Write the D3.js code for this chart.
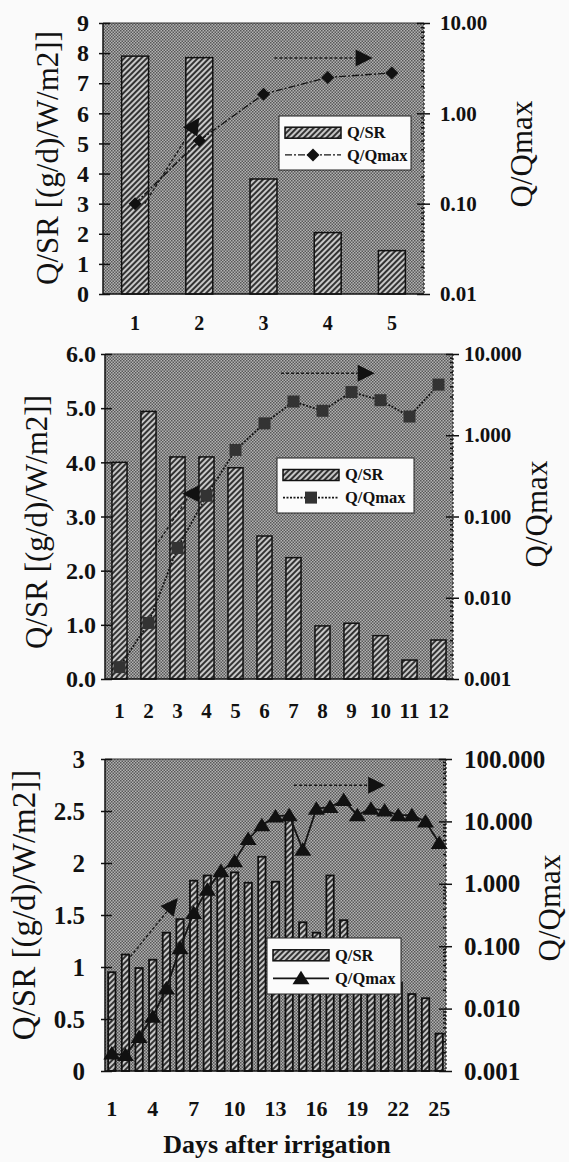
<!DOCTYPE html>
<html>
<head>
<meta charset="utf-8">
<script src="https://cdn.jsdelivr.net/npm/d3@7"></script>
<style>
body { margin: 0; background: #fafafa; }
svg { display: block; font-family: "Liberation Serif", "Times New Roman", serif; }
</style>
</head>
<body>
<div id="chart"></div>
<script>
// ---- data ----
var days1 = [1, 2, 3, 4, 5];
var qsr1 = [7.9, 7.85, 3.82, 2.04, 1.44];
var qmax1 = [0.10, 0.50, 1.63, 2.5, 2.8];
var yTicks1 = [0, 1, 2, 3, 4, 5, 6, 7, 8, 9];
var rTicks1 = [0.01, 0.1, 1, 10];
var xTicks1 = [1, 2, 3, 4, 5];

var days2 = [1, 2, 3, 4, 5, 6, 7, 8, 9, 10, 11, 12];
var qsr2 = [4.0, 4.94, 4.1, 4.1, 3.9, 2.64, 2.24, 0.98, 1.03, 0.8, 0.35, 0.72];
var qmax2 = [0.0014, 0.0049, 0.041, 0.18, 0.66, 1.4, 2.6, 2.0, 3.4, 2.7, 1.7, 4.2];
var yTicks2 = [0, 1, 2, 3, 4, 5, 6];
var rTicks2 = [0.001, 0.01, 0.1, 1, 10];
var xTicks2 = [1, 2, 3, 4, 5, 6, 7, 8, 9, 10, 11, 12];

var days3 = [1, 2, 3, 4, 5, 6, 7, 8, 9, 10, 11, 12, 13, 14, 15, 16, 17, 18, 19, 20, 21, 22, 23, 24, 25];
var qsr3 = [0.95, 1.12, 0.99, 1.07, 1.33, 1.46, 1.83, 1.88, 1.87, 1.91, 1.81, 2.06, 1.82,
            2.45, 1.43, 1.33, 1.88, 1.45, 1.0, 0.95, 0.9, 0.85, 0.74, 0.70, 0.36];
var qmax3 = [0.0019, 0.0018, 0.0035, 0.0074, 0.021, 0.093, 0.34, 0.8, 1.6, 2.3, 5.2, 8.7, 12,
             12.6, 3.5, 16, 17, 22, 12.6, 16, 15, 12.6, 12.6, 10, 4.5];
var yTicks3 = [0, 0.5, 1, 1.5, 2, 2.5, 3];
var rTicks3 = [0.001, 0.01, 0.1, 1, 10, 100];
var xTicks3 = [1, 4, 7, 10, 13, 16, 19, 22, 25];

// annotation arrows in data units (day, Q/Qmax)
var arrows1 = [{d1: 1.15, q1: 0.10, d2: 2.0, q2: 0.9}, {d1: 3.17, q1: 4.1, d2: 4.7, q2: 4.1}];
var arrows2 = [{d1: 2.05, q1: 0.034, d2: 3.45, q2: 0.19, angle: 180}, {d1: 6.57, q1: 5.8, d2: 9.8, q2: 5.8}];
var arrows3 = [{d1: 2.36, q1: 0.068, d2: 5.84, q2: 0.59}, {d1: 14.36, q1: 38, d2: 21.04, q2: 38}];

var SERIF = "Liberation Serif, Times New Roman, serif";
var W = 569, H = 1162;
var svg = d3.select("#chart").append("svg").attr("width", W).attr("height", H);

var defs = svg.append("defs");
var ht = defs.append("pattern").attr("id", "halftone")
    .attr("width", 3).attr("height", 3).attr("patternUnits", "userSpaceOnUse");
ht.append("rect").attr("width", 3).attr("height", 3).attr("fill", "#b2b2b2");
ht.append("rect").attr("width", 1.5).attr("height", 1.5).attr("fill", "#585858");
ht.append("rect").attr("x", 1.5).attr("y", 1.5).attr("width", 1.5).attr("height", 1.5).attr("fill", "#585858");

var hatch = defs.append("pattern").attr("id", "hatch")
    .attr("width", 4).attr("height", 4).attr("patternUnits", "userSpaceOnUse")
    .attr("patternTransform", "rotate(45)");
hatch.append("rect").attr("width", 4).attr("height", 4).attr("fill", "#c8c8c8");
hatch.append("rect").attr("width", 2).attr("height", 4).attr("fill", "#333");

var panels = [
  {days: days1, qsr: qsr1, qq: qmax1, yTicks: yTicks1, yFmt: d3.format("d"), rTicks: rTicks1, rFmt: d3.format(".2f"),
   xTicks: xTicks1, left: 103, right: 424, top: 23, bottom: 294, pad: 0.58, barStroke: 1.5,
   marker: "diamond", dash: "7,2,2,2", lineW: 1.4, leftFont: 24, rightFont: 21, xFont: 20,
   leftPad: 10, rightPad: 10, xPad: 22,
   ytitle: {x: 48, y: 158, size: 31}, rtitle: {x: 522, y: 154, size: 31},
   legend: {x: 279, y: 116, w: 132, h: 54}, arrows: arrows1},
  {days: days2, qsr: qsr2, qq: qmax2, yTicks: yTicks2, yFmt: d3.format(".1f"), rTicks: rTicks2, rFmt: d3.format(".3f"),
   xTicks: xTicks2, left: 105, right: 453, top: 354, bottom: 679, pad: 0.48, barStroke: 1.5,
   marker: "square", dash: "2,1.5", lineW: 1.8, leftFont: 24, rightFont: 21, xFont: 21,
   leftPad: 5, rightPad: 5, xPad: 24,
   ytitle: {x: 37, y: 522, size: 31}, rtitle: {x: 537, y: 514, size: 31},
   legend: {x: 277, y: 458, w: 137, h: 55}, arrows: arrows2},
  {days: days3, qsr: qsr3, qq: qmax3, yTicks: yTicks3, yFmt: d3.format(""), rTicks: rTicks3, rFmt: d3.format(".3f"),
   xTicks: xTicks3, left: 105, right: 446, top: 759, bottom: 1071, pad: 0.46, barStroke: 1.8,
   marker: "triangle", dash: null, lineW: 1.8, leftFont: 25, rightFont: 25, xFont: 22,
   leftPad: 16, rightPad: 12, xPad: 29,
   ytitle: {x: 24, y: 905, size: 33}, rtitle: {x: 550, y: 908, size: 31},
   legend: {x: 267, y: 938, w: 134, h: 56}, arrows: arrows3}
];

function markerPath(type) {
  if (type == "diamond") return "M0,-6.5L6.5,0L0,6.5L-6.5,0Z";
  if (type == "square") return "M-6,-6H6V6H-6Z";
  return "M0,-7.5L8.5,6L-8.5,6Z";
}

function drawPanel(p) {
  var g = svg.append("g");
  var x = d3.scaleBand().domain(p.days).range([p.left, p.right])
      .paddingInner(p.pad).paddingOuter(p.pad / 2);
  var step = x.step();
  var xc = d => p.left + (d - p.days[0] + 0.5) * step; // continuous day position
  var y = d3.scaleLinear().domain([p.yTicks[0], p.yTicks[p.yTicks.length - 1]]).range([p.bottom, p.top]);
  var yr = d3.scaleLog().domain([p.rTicks[0], p.rTicks[p.rTicks.length - 1]]).range([p.bottom, p.top]);

  // plot background
  g.append("rect").attr("x", p.left).attr("y", p.top)
      .attr("width", p.right - p.left).attr("height", p.bottom - p.top)
      .attr("fill", "url(#halftone)");

  // bars
  g.append("g").selectAll("rect").data(p.qsr).join("rect")
      .attr("x", (d, i) => x(p.days[i]))
      .attr("y", d => y(d))
      .attr("width", x.bandwidth())
      .attr("height", d => y(0) - y(d))
      .attr("fill", "url(#hatch)")
      .attr("stroke", "#111")
      .attr("stroke-width", p.barStroke);

  // Q/Qmax line
  var line = d3.line().x((d, i) => x(p.days[i]) + x.bandwidth() / 2).y(d => yr(d));
  g.append("path").datum(p.qq).attr("d", line)
      .attr("fill", "none").attr("stroke", "#151515")
      .attr("stroke-width", p.lineW)
      .attr("stroke-dasharray", p.dash);
  g.append("g").selectAll("path").data(p.qq).join("path")
      .attr("transform", (d, i) => `translate(${x(p.days[i]) + x.bandwidth() / 2},${yr(d)})`)
      .attr("d", markerPath(p.marker))
      .attr("fill", p.marker == "square" ? "#333" : "#111");

  // annotation arrows
  p.arrows.forEach(a => {
    var x1 = xc(a.d1), y1 = yr(a.q1), x2 = xc(a.d2), y2 = yr(a.q2);
    var ang = Math.atan2(y2 - y1, x2 - x1);
    var headAng = a.angle != null ? a.angle * Math.PI / 180 : ang;
    var L = 17, hw = 8.5;
    var bx = x2 - Math.cos(ang) * (a.angle != null ? 6 : L);
    var by = y2 - Math.sin(ang) * (a.angle != null ? 6 : L);
    g.append("line").attr("x1", x1).attr("y1", y1).attr("x2", bx).attr("y2", by)
        .attr("stroke", "#1a1a1a").attr("stroke-width", 1.4).attr("stroke-dasharray", "3,2");
    var tipX = x2, tipY = y2;
    if (a.angle != null) { tipX = x2 - L / 2; tipY = y2; }
    var c = Math.cos(headAng), s = Math.sin(headAng);
    var baseX = tipX - c * L, baseY = tipY - s * L;
    g.append("path")
        .attr("d", `M${tipX},${tipY}L${baseX - s * hw},${baseY + c * hw}L${baseX + s * hw},${baseY - c * hw}Z`)
        .attr("fill", "#111");
  });

  // frame
  g.append("line").attr("x1", p.left).attr("x2", p.right).attr("y1", p.top).attr("y2", p.top)
      .attr("stroke", "#333").attr("stroke-width", 1);
  g.append("line").attr("x1", p.right).attr("x2", p.right).attr("y1", p.top).attr("y2", p.bottom)
      .attr("stroke", "#222").attr("stroke-width", 1.3).attr("stroke-dasharray", "2,2");
  g.append("line").attr("x1", p.left).attr("x2", p.left).attr("y1", p.top).attr("y2", p.bottom)
      .attr("stroke", "#111").attr("stroke-width", 1.5);
  g.append("line").attr("x1", p.left).attr("x2", p.right).attr("y1", p.bottom).attr("y2", p.bottom)
      .attr("stroke", "#111").attr("stroke-width", 1.5);

  // left axis
  var la = g.append("g").attr("transform", `translate(${p.left},0)`)
      .call(d3.axisLeft(y).tickValues(p.yTicks).tickFormat(p.yFmt).tickSize(4).tickPadding(p.leftPad));
  la.append("g").call(d3.axisLeft(y).tickValues(p.yTicks).tickFormat("").tickSize(-7));
  // right axis
  var ra = g.append("g").attr("transform", `translate(${p.right},0)`)
      .call(d3.axisRight(yr).tickValues(p.rTicks).tickFormat(p.rFmt).tickSize(6).tickPadding(p.rightPad));
  ra.append("g").call(d3.axisRight(yr).tickValues(p.rTicks).tickFormat("").tickSize(-7));
  var minor = yr.ticks().filter(v => p.rTicks.indexOf(v) < 0);
  ra.append("g").call(d3.axisRight(yr).tickValues(minor).tickFormat("").tickSize(-3));
  // bottom axis
  var ba = g.append("g").attr("transform", `translate(0,${p.bottom})`)
      .call(d3.axisBottom(x).tickValues(p.xTicks).tickSize(0).tickPadding(p.xPad));

  [la, ra, ba].forEach(a => {
    a.attr("font-family", SERIF);
    a.selectAll(".domain").remove();
    a.selectAll("line").attr("stroke", "#111").attr("stroke-width", 1.5);
    a.selectAll("text").attr("fill", "#111").attr("font-weight", "bold");
  });
  la.selectAll("text").attr("font-size", p.leftFont);
  ra.selectAll("text").attr("font-size", p.rightFont);
  ba.selectAll("text").attr("font-size", p.xFont);

  // axis titles
  g.append("text").attr("transform", `translate(${p.ytitle.x},${p.ytitle.y}) rotate(-90)`)
      .attr("text-anchor", "middle").attr("dy", "0.32em")
      .attr("font-family", SERIF).attr("font-size", p.ytitle.size).attr("fill", "#111")
      .text("Q/SR [(g/d)/W/m2]]");
  g.append("text").attr("transform", `translate(${p.rtitle.x},${p.rtitle.y}) rotate(-90)`)
      .attr("text-anchor", "middle").attr("dy", "0.32em")
      .attr("font-family", SERIF).attr("font-size", p.rtitle.size).attr("fill", "#111")
      .text("Q/Qmax");

  // legend
  var lg = g.append("g").attr("transform", `translate(${p.legend.x},${p.legend.y})`);
  lg.append("rect").attr("width", p.legend.w).attr("height", p.legend.h)
      .attr("fill", "#fbfbfb").attr("stroke", "#222").attr("stroke-width", 1);
  var r1 = p.legend.h * 0.3, r2 = p.legend.h * 0.72;
  lg.append("rect").attr("x", 6).attr("y", r1 - 5).attr("width", 56).attr("height", 11)
      .attr("fill", "url(#hatch)").attr("stroke", "#111").attr("stroke-width", 1.5);
  lg.append("line").attr("x1", 6).attr("x2", 62).attr("y1", r2).attr("y2", r2)
      .attr("stroke", "#151515").attr("stroke-width", p.lineW).attr("stroke-dasharray", p.dash);
  lg.append("path").attr("transform", `translate(34,${r2})`).attr("d", markerPath(p.marker))
      .attr("fill", p.marker == "square" ? "#333" : "#111");
  lg.append("text").attr("x", 68).attr("y", r1).attr("dy", "0.35em").attr("font-family", SERIF)
      .attr("font-size", 16.5).attr("font-weight", "bold").attr("fill", "#111").text("Q/SR");
  lg.append("text").attr("x", 68).attr("y", r2).attr("dy", "0.35em").attr("font-family", SERIF)
      .attr("font-size", 16.5).attr("font-weight", "bold").attr("fill", "#111").text("Q/Qmax");
}

panels.forEach(drawPanel);

svg.append("text").attr("x", 277).attr("y", 1153).attr("text-anchor", "middle")
    .attr("font-family", SERIF).attr("font-size", 26).attr("font-weight", "bold").attr("fill", "#111")
    .text("Days after irrigation");
</script>
</body>
</html>
